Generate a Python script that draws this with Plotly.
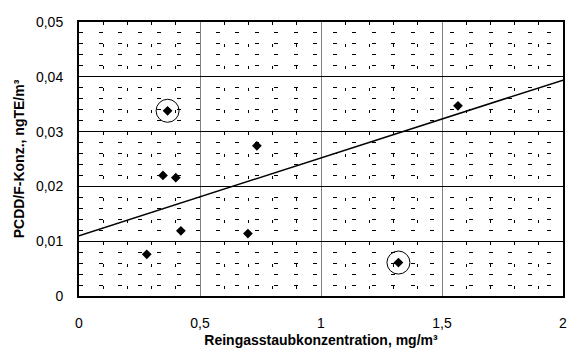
import plotly.graph_objects as go

# Data
x_vals = [0.366, 0.347, 0.400, 0.421, 0.280, 0.698, 0.735, 1.566, 1.320]
y_vals = [0.0338, 0.0220, 0.0216, 0.0119, 0.0076, 0.0114, 0.0274, 0.0347, 0.0061]
circled_x = [0.366, 1.320]
circled_y = [0.0338, 0.0061]
trend_x = [0, 2]
trend_y = [0.0110, 0.0394]

x_tickvals = [0, 0.5, 1, 1.5, 2]
x_ticktext = ["0", "0,5", "1", "1,5", "2"]
y_tickvals = [0, 0.01, 0.02, 0.03, 0.04, 0.05]
y_ticktext = ["0", "0,01", "0,02", "0,03", "0,04", "0,05"]

x_title = "Reingasstaubkonzentration, mg/m³"
y_title = "PCDD/F-Konz., ngTE/m³"

fig = go.Figure()
fig.add_trace(go.Scatter(x=trend_x, y=trend_y, mode="lines",
                         line=dict(color="black", width=1.5), showlegend=False,
                         hoverinfo="skip"))
fig.add_trace(go.Scatter(x=x_vals, y=y_vals, mode="markers",
                         marker=dict(symbol="diamond", size=7.5, color="black"),
                         showlegend=False))
fig.add_trace(go.Scatter(x=circled_x, y=circled_y, mode="markers",
                         marker=dict(symbol="circle-open", size=23, color="black",
                                     line=dict(width=1, color="black")),
                         showlegend=False, hoverinfo="skip"))

font_family = "Liberation Sans, Arial, sans-serif"

fig.update_layout(
    width=571, height=352,
    margin=dict(l=79, r=4, t=22, b=56),
    plot_bgcolor="white", paper_bgcolor="white",
    font=dict(family=font_family, size=14, color="black"),
    separators=", ",
)
fig.update_xaxes(
    range=[0, 2], tickvals=x_tickvals, ticktext=x_ticktext,
    showgrid=True, gridcolor="#808080", gridwidth=1,
    showline=True, linecolor="black", linewidth=2, mirror=True,
    zeroline=False,
    ticks="outside", ticklen=13, tickcolor="rgba(0,0,0,0)",
    tickfont=dict(size=14),
    minor=dict(dtick=0.1, showgrid=True, gridcolor="black", gridwidth=1,
               griddash="3px,19px"),
    title=dict(text="<b>" + x_title + "</b>", font=dict(size=14), standoff=5),
)
fig.update_yaxes(
    range=[0, 0.05], tickvals=y_tickvals, ticktext=y_ticktext,
    showgrid=True, gridcolor="black", gridwidth=1,
    showline=True, linecolor="black", linewidth=2, mirror=True,
    zeroline=False,
    ticks="outside", ticklen=11, tickcolor="rgba(0,0,0,0)",
    tickfont=dict(size=14),
    minor=dict(dtick=0.002, showgrid=True, gridcolor="black", gridwidth=1,
               griddash="4px,15.5px"),
    title=dict(text="<b>" + y_title + "</b>", font=dict(size=14), standoff=8),
)

fig.write_html("out.html")
